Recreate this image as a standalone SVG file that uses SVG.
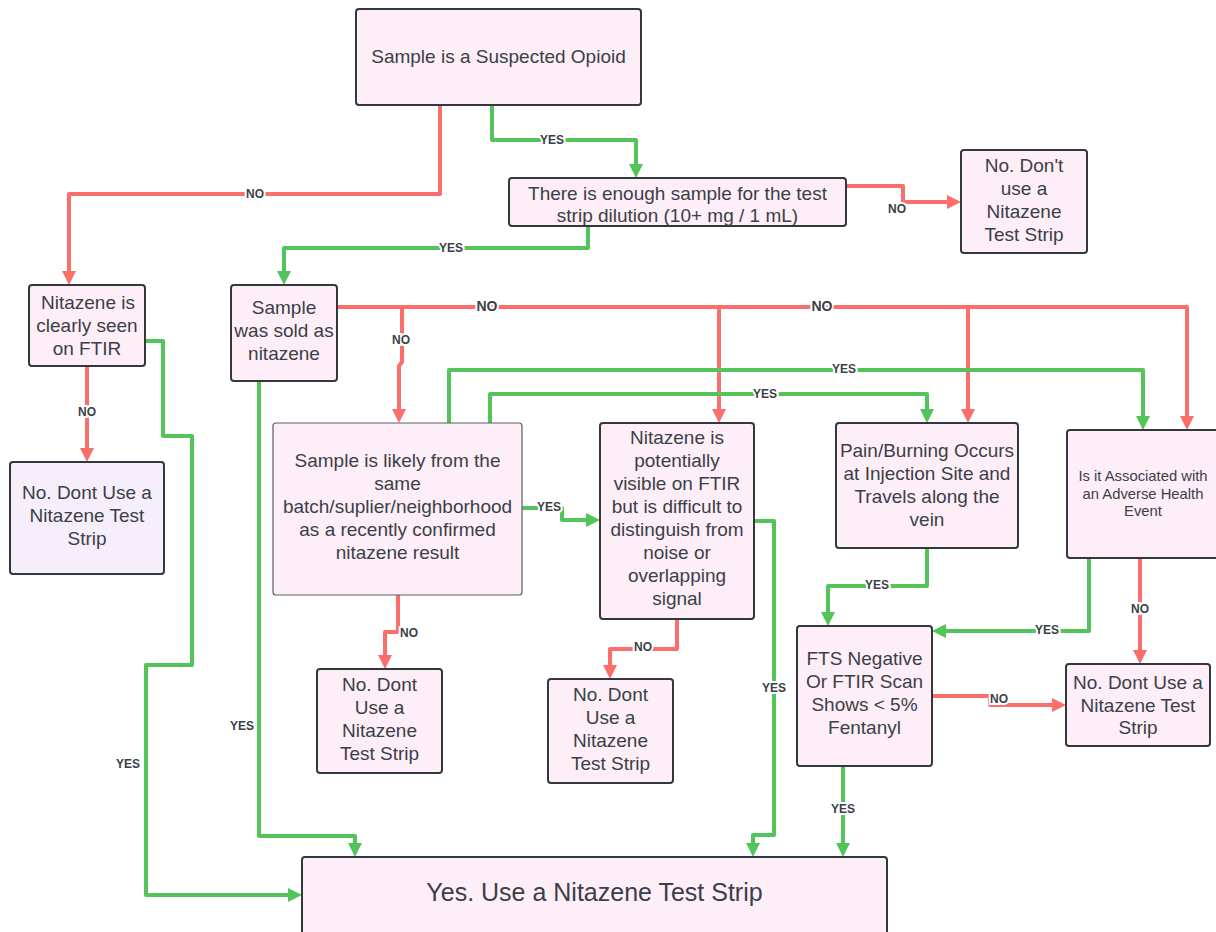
<svg xmlns="http://www.w3.org/2000/svg" width="1216" height="932" viewBox="0 0 1216 932">
<style>
.box{fill:#fdeef8;stroke:#34373d;stroke-width:2}
.boxl{fill:#fdeef8;stroke:#5a5d63;stroke-width:1.2}
.boxv{fill:#f7eefb;stroke:#34373d;stroke-width:2}
.t{font-family:"Liberation Sans",Arial,sans-serif;font-size:19px;fill:#3b3f47;text-anchor:middle}
.ts{font-family:"Liberation Sans",Arial,sans-serif;font-size:14.8px;fill:#3b3f47;text-anchor:middle}
.tb{font-family:"Liberation Sans",Arial,sans-serif;font-size:25px;fill:#3b3f47;text-anchor:middle}
.g{fill:none;stroke:#52c45a;stroke-width:4;stroke-linejoin:round}
.r{fill:none;stroke:#fa6e6c;stroke-width:4;stroke-linejoin:round}
.lb{font-family:"Liberation Sans",Arial,sans-serif;font-size:12px;font-weight:bold;fill:#3b3f47;text-anchor:middle;stroke:#fff;stroke-width:4;paint-order:stroke}
.lbb{font-size:14px}
</style>
<defs>
<marker id="ag" markerUnits="userSpaceOnUse" markerWidth="16" markerHeight="16" refX="4" refY="7" orient="auto"><path d="M0,0 L14,7 L0,14 z" fill="#52c45a"/></marker>
<marker id="ar" markerUnits="userSpaceOnUse" markerWidth="16" markerHeight="16" refX="4" refY="7" orient="auto"><path d="M0,0 L14,7 L0,14 z" fill="#fa6e6c"/></marker>
</defs>
<g id="connectors">
<path class="r" d="M440,105 V194 H69 V275" marker-end="url(#ar)"/>
<path class="g" d="M492,105 V140 H636 V168" marker-end="url(#ag)"/>
<path class="r" d="M846,186 H903 V202 H951" marker-end="url(#ar)"/>
<path class="g" d="M588,226 V248 H284 V275" marker-end="url(#ag)"/>
<path class="g" d="M145,341 H163 V436 H192 V665 H146 V895 H292" marker-end="url(#ag)"/>
<path class="r" d="M87,366 V452" marker-end="url(#ar)"/>
<path class="g" d="M259,381 V836 H355 V847" marker-end="url(#ag)"/>
<path class="r" d="M337,307 H1187 V420" marker-end="url(#ar)"/>
<path class="r" d="M402,307 V362 L399,366 V413" marker-end="url(#ar)"/>
<path class="r" d="M719,307 V413" marker-end="url(#ar)"/>
<path class="r" d="M968,307 V413" marker-end="url(#ar)"/>
<path class="g" d="M449,423 V370 H1143 V420" marker-end="url(#ag)"/>
<path class="g" d="M490,423 V394 H927 V413" marker-end="url(#ag)"/>
<path class="g" d="M522,508 H562 V520 H590" marker-end="url(#ag)"/>
<path class="r" d="M398,595 V632 H385 V659" marker-end="url(#ar)"/>
<path class="g" d="M754,521 H774 V835 H753 V847" marker-end="url(#ag)"/>
<path class="r" d="M677,619 V649 H610 V669" marker-end="url(#ar)"/>
<path class="g" d="M927,548 V586 H828 V616" marker-end="url(#ag)"/>
<path class="g" d="M1089,558 V631 H942" marker-end="url(#ag)"/>
<path class="r" d="M1140,558 V654" marker-end="url(#ar)"/>
<path class="r" d="M932,696 H990 V705 H1056" marker-end="url(#ar)"/>
<path class="g" d="M843,766 V847" marker-end="url(#ag)"/>
<text class="lb" x="255" y="198">NO</text>
<text class="lb" x="552" y="144">YES</text>
<text class="lb" x="897" y="213">NO</text>
<text class="lb" x="451" y="252">YES</text>
<text class="lb" x="128" y="768">YES</text>
<text class="lb" x="87" y="416">NO</text>
<text class="lb" x="242" y="730">YES</text>
<text class="lb lbb" x="487" y="311">NO</text>
<text class="lb lbb" x="822" y="311">NO</text>
<text class="lb" x="401" y="344">NO</text>
<text class="lb" x="844" y="373">YES</text>
<text class="lb" x="765" y="398">YES</text>
<text class="lb" x="549" y="511">YES</text>
<text class="lb" x="409" y="637">NO</text>
<text class="lb" x="774" y="692">YES</text>
<text class="lb" x="643" y="651">NO</text>
<text class="lb" x="877" y="589">YES</text>
<text class="lb" x="1047" y="634">YES</text>
<text class="lb" x="1140" y="613">NO</text>
<text class="lb" x="999" y="703">NO</text>
<text class="lb" x="843" y="813">YES</text>
</g>
<g id="n1"><rect class="box" x="356" y="9" width="285" height="96" rx="3"/><text class="t" x="498.5" y="62.5">Sample is a Suspected Opioid</text></g>
<g id="n2"><rect class="box" x="509" y="178" width="337" height="48" rx="3"/><text class="t" x="677.5" y="199.5">There is enough sample for the test</text><text class="t" x="677.5" y="222">strip dilution (10+ mg / 1 mL)</text></g>
<g id="n3"><rect class="box" x="961" y="150" width="126" height="103" rx="3"/><text class="t" x="1024" y="171.5">No. Don't</text><text class="t" x="1024" y="194.5">use a</text><text class="t" x="1024" y="217.5">Nitazene</text><text class="t" x="1024" y="241">Test Strip</text></g>
<g id="n4"><rect class="box" x="29" y="285" width="116" height="81" rx="3"/><text class="t" x="88" y="308.5">Nitazene is</text><text class="t" x="87" y="331.5">clearly seen</text><text class="t" x="87" y="354.5">on FTIR</text></g>
<g id="n5"><rect class="box" x="231" y="285" width="106" height="96" rx="3"/><text class="t" x="284" y="313.5">Sample</text><text class="t" x="284" y="336.5">was sold as</text><text class="t" x="284" y="359.5">nitazene</text></g>
<g id="n6"><rect class="boxv" x="10" y="462" width="154" height="112" rx="3"/><text class="t" x="87" y="498.5">No. Dont Use a</text><text class="t" x="87" y="521.5">Nitazene Test</text><text class="t" x="87" y="544.5">Strip</text></g>
<g id="n7"><rect class="boxl" x="273" y="423" width="249" height="172" rx="3"/><text class="t" x="397.5" y="466.5">Sample is likely from the</text><text class="t" x="397.5" y="489.5">same</text><text class="t" x="397.5" y="512.5">batch/suplier/neighborhood</text><text class="t" x="397.5" y="535.5">as a recently confirmed</text><text class="t" x="397.5" y="558.5">nitazene result</text></g>
<g id="n8"><rect class="box" x="600" y="423" width="154" height="196" rx="3"/><text class="t" x="677" y="443.5">Nitazene is</text><text class="t" x="677" y="466.6">potentially</text><text class="t" x="677" y="489.7">visible on FTIR</text><text class="t" x="677" y="512.8">but is difficult to</text><text class="t" x="677" y="535.9">distinguish from</text><text class="t" x="677" y="559">noise or</text><text class="t" x="677" y="582.1">overlapping</text><text class="t" x="677" y="605.2">signal</text></g>
<g id="n9"><rect class="box" x="836" y="423" width="182" height="125" rx="3"/><text class="t" x="927" y="456.5">Pain/Burning Occurs</text><text class="t" x="927" y="479.5">at Injection Site and</text><text class="t" x="927" y="502.5">Travels along the</text><text class="t" x="927" y="525.5">vein</text></g>
<g id="n10"><rect class="box" x="1067" y="430" width="153" height="128" rx="3"/><text class="ts" x="1143" y="481">Is it Associated with</text><text class="ts" x="1143" y="498.5">an Adverse Health</text><text class="ts" x="1143" y="516">Event</text></g>
<g id="n11"><rect class="box" x="797" y="626" width="135" height="140" rx="3"/><text class="t" x="864.5" y="664.5">FTS Negative</text><text class="t" x="864.5" y="687.5">Or FTIR Scan</text><text class="t" x="864.5" y="710.5">Shows &lt; 5%</text><text class="t" x="864.5" y="733.5">Fentanyl</text></g>
<g id="n12"><rect class="box" x="1066" y="664" width="144" height="82" rx="3"/><text class="t" x="1138" y="688.5">No. Dont Use a</text><text class="t" x="1138" y="711.5">Nitazene Test</text><text class="t" x="1138" y="734">Strip</text></g>
<g id="n13"><rect class="box" x="317" y="669" width="125" height="104" rx="3"/><text class="t" x="379.5" y="690.5">No. Dont</text><text class="t" x="379.5" y="713.5">Use a</text><text class="t" x="379.5" y="736.5">Nitazene</text><text class="t" x="379.5" y="759.5">Test Strip</text></g>
<g id="n14"><rect class="box" x="548" y="679" width="125" height="104" rx="3"/><text class="t" x="610.5" y="700.5">No. Dont</text><text class="t" x="610.5" y="723.5">Use a</text><text class="t" x="610.5" y="746.5">Nitazene</text><text class="t" x="610.5" y="770">Test Strip</text></g>
<g id="n15"><rect class="box" x="302" y="857" width="585" height="90" rx="3"/><text class="tb" x="594.5" y="901">Yes. Use a Nitazene Test Strip</text></g>
</svg>
